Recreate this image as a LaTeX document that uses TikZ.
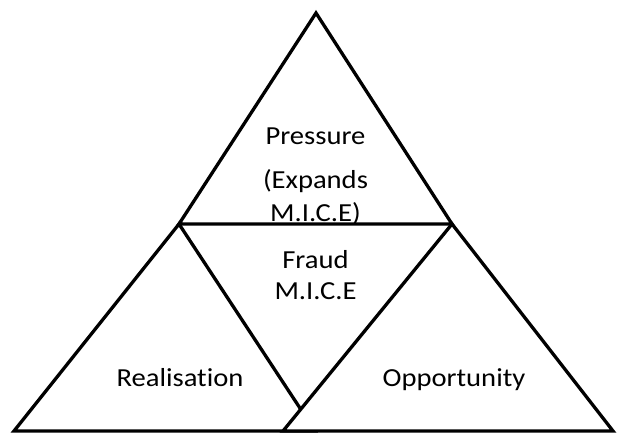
\documentclass[tikz,border=0pt]{standalone}
\usepackage{fontspec}
\newfontfamily\calib[FakeStretch=1.1,Ligatures=NoCommon]{Carlito}
\begin{document}
\begin{tikzpicture}[x=1pt,y=-1pt,
  tri/.style={draw=black,line width=3.3pt,fill=white,line join=miter},
  lbl/.style={anchor=base,inner sep=0pt,font=\calib\fontsize{26}{30}\selectfont,text=black}]
\useasboundingbox (0,0) rectangle (617,433);
% top triangle
\draw[tri] (316,13) -- (179,224) -- (452,224) -- cycle;
% bottom-left triangle
\draw[tri] (179,224) -- (14,431) -- (315,431) -- cycle;
% bottom-right triangle (drawn over the left one)
\draw[tri] (452,224) -- (283,431) -- (613,431) -- cycle;
% labels
\node[lbl] (pressure) at (315.5,144.8) {Pressure};
\node[lbl] (expands) at (315.5,188.5) {(Expands};
\node[lbl] (mice1) at (315.5,221.5) {M.I.C.E)};
\node[lbl] (fraud) at (315.5,268.3) {Fraud};
\node[lbl] (mice2) at (315.5,299.3) {M.I.C.E};
\node[lbl] (realisation) at (180,386.7) {Realisation};
\node[lbl] (opportunity) at (454,386.7) {Opportunity};
\end{tikzpicture}
\end{document}
